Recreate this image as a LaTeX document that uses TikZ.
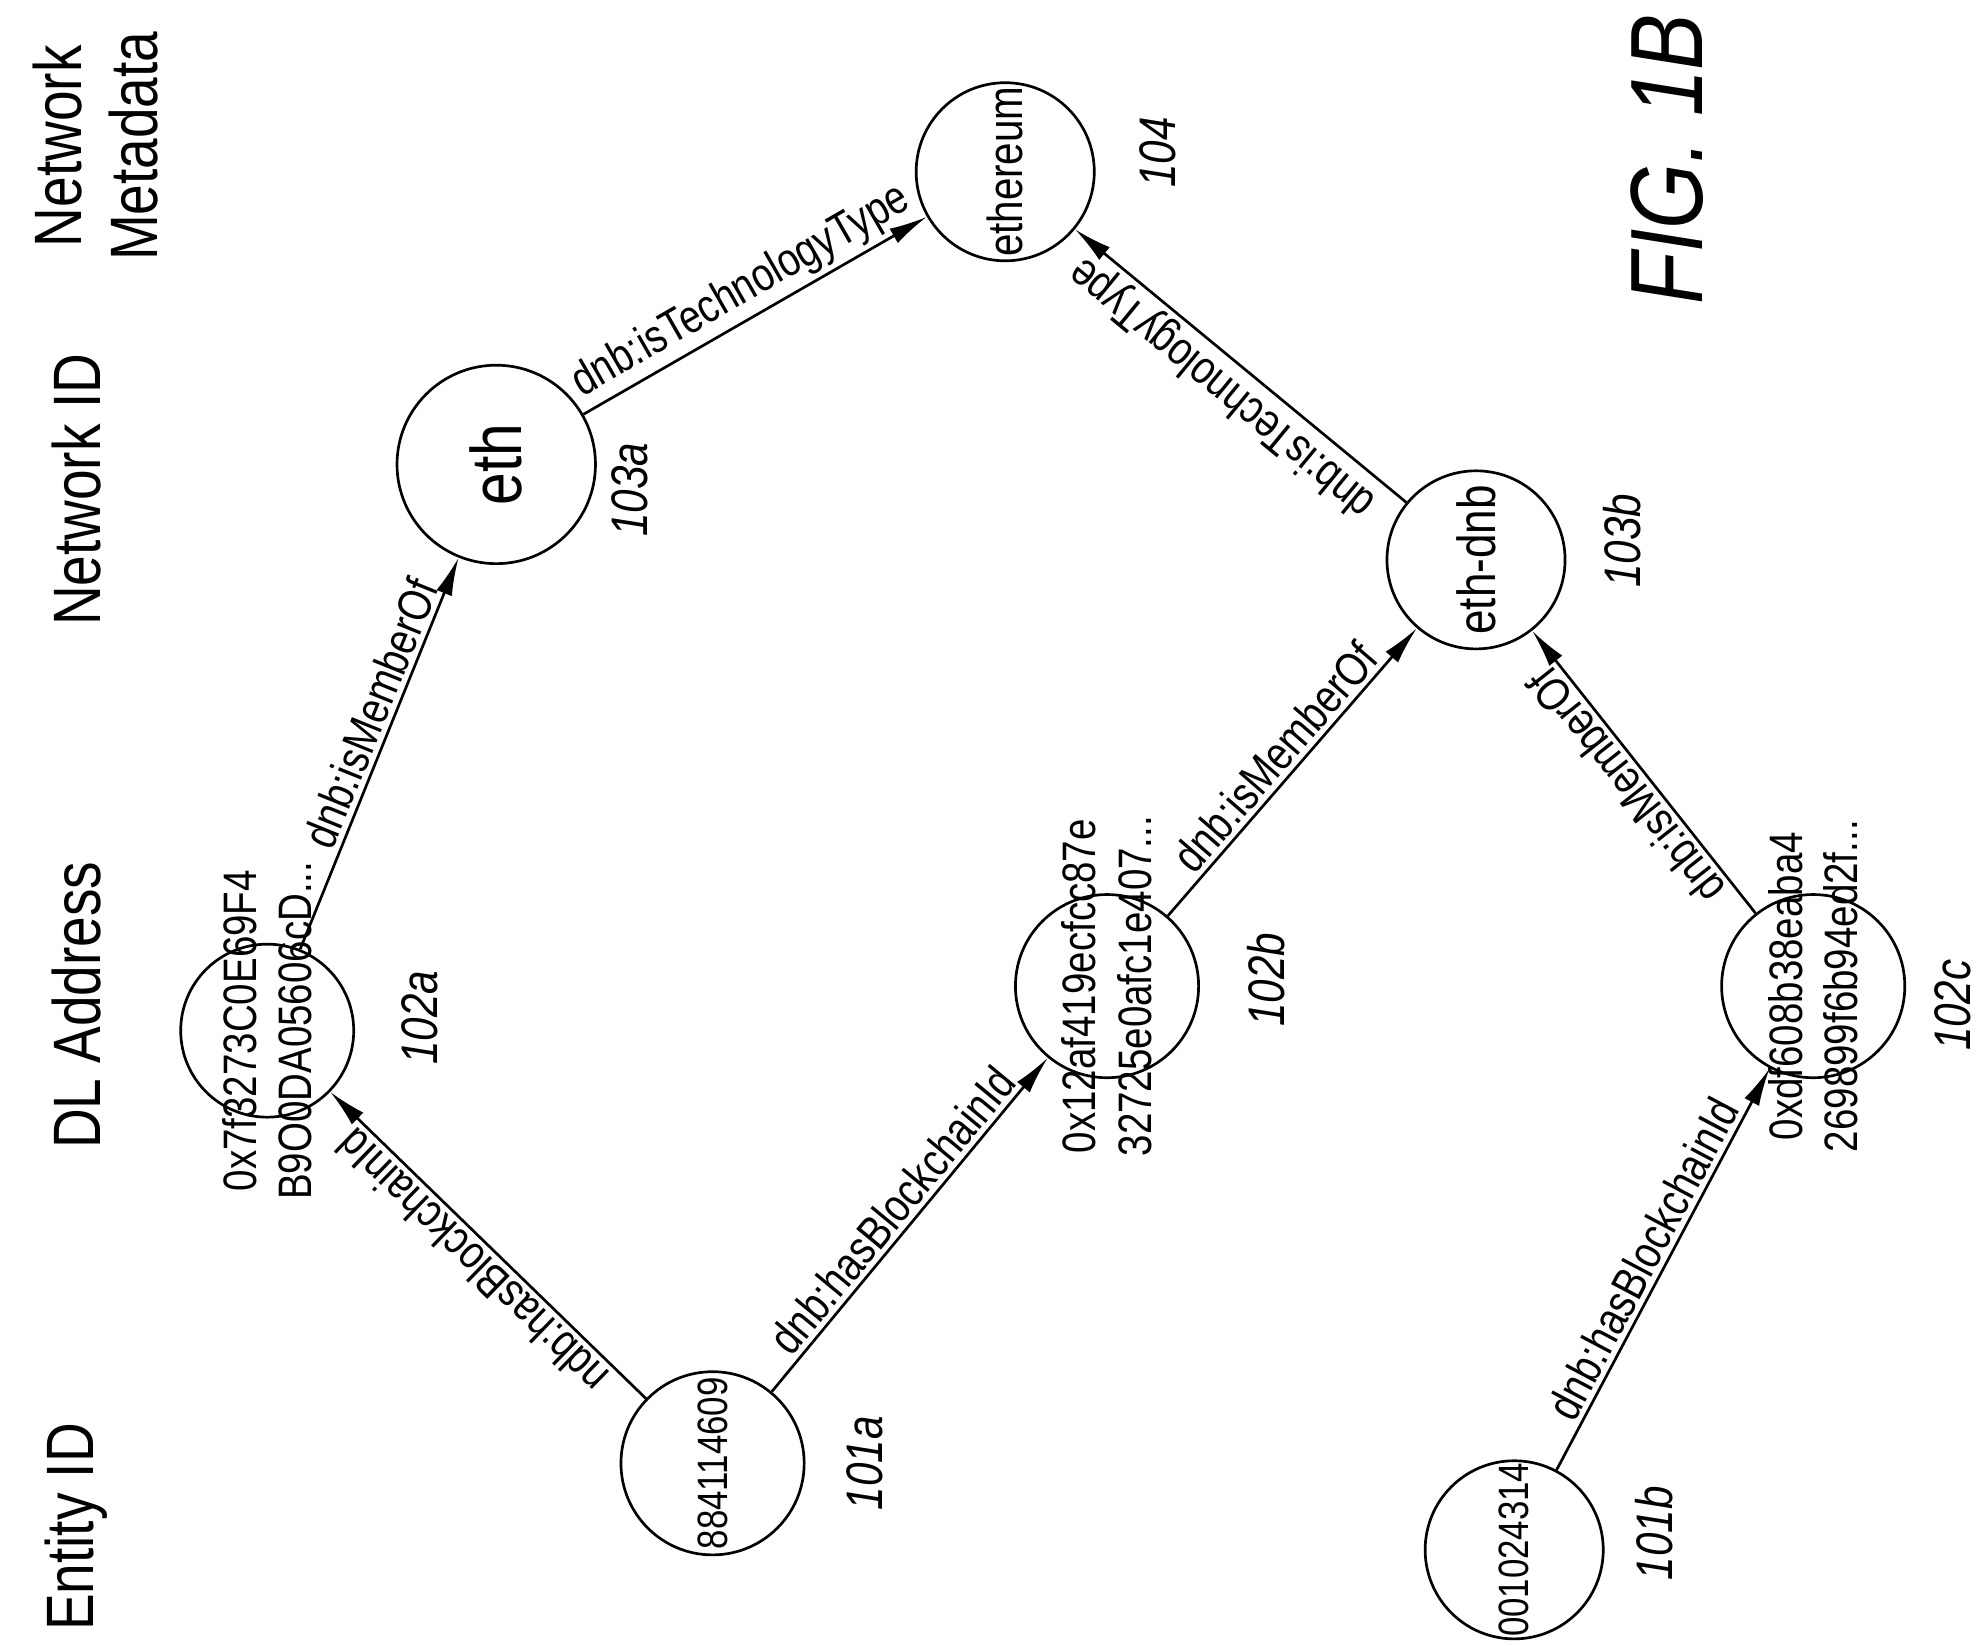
\documentclass[tikz,border=0pt]{standalone}
\usepackage{fontspec}
\setmainfont{Liberation Sans}[FakeStretch=0.82]
\usetikzlibrary{arrows.meta}
\newcommand\hdfont{\fontsize{30}{34}\selectfont}
\newcommand\lbfont{\fontsize{21}{24}\selectfont}
\newcommand\adfont{\fontsize{21}{25}\selectfont}
\newcommand\idfont{\fontsize{19}{22}\selectfont}
\newcommand\rffont{\fontsize{23}{26}\selectfont\itshape}
\tikzset{
  ent/.style={circle,draw,line width=1.2pt,inner sep=0pt},
  rel/.style={line width=1.2pt,-{Latex[length=6mm,width=2.6mm]}},
  edgelab/.style={sloped,allow upside down,above,inner sep=2pt,font=\lbfont,pos=0.5},
  vtext/.style={rotate=90,align=center},
  refnum/.style={rotate=90,font=\rffont}
}
\begin{document}
\begin{tikzpicture}[x=0.02cm,y=-0.02cm]
\useasboundingbox (0,0) rectangle (1560,1293);

% column headings
\node[vtext,font=\hdfont] at (60,1200) {Entity ID};
\node[vtext,font=\hdfont] at (60,790) {DL Address};
\node[vtext,font=\hdfont] at (60,385) {Network ID};
\node[vtext,font=\hdfont] at (75,115) {Network\\Metadata};
\node[vtext,font=\fontsize{46}{50}\selectfont\itshape] at (1310,125) {FIG. 1B};

% nodes
\node[ent,minimum size=2.88cm] (e1) at (560,1150) {};
\node[ent,minimum size=2.8cm] (e2) at (1190,1218) {};
\node[ent,minimum size=2.72cm] (a1) at (210,810) {};
\node[ent,minimum size=2.88cm] (a2) at (870,775) {};
\node[ent,minimum size=2.88cm] (a3) at (1425,775) {};
\node[ent,minimum size=3.12cm] (n1) at (390,365) {};
\node[ent,minimum size=2.8cm] (n2) at (1160,440) {};
\node[ent,minimum size=2.8cm] (m1) at (790,135) {};

\node[vtext,font=\idfont] at (e1) {884114609};
\node[vtext,font=\idfont] at (e2) {001024314};
\node[vtext,font=\adfont] at (a1) {0x7f3273C0E69F4\\B9O0DA05606cD...};
\node[vtext,font=\adfont] at (a2) {0x12af419ecfcc87e\\32725e0afc1e407...};
\node[vtext,font=\adfont] at (a3) {0xdf608b38eaba4\\269899f6b94ed2f...};
\node[vtext,font=\fontsize{32}{36}\selectfont] at (n1) {eth};
\node[vtext,font=\fontsize{24}{28}\selectfont] at (n2) {eth-dnb};
\node[vtext,font=\fontsize{22}{26}\selectfont] at (m1) {ethereum};

% reference numerals
\node[refnum] at (680,1150) {101a};
\node[refnum] at (1300,1205) {101b};
\node[refnum] at (330,800) {102a};
\node[refnum] at (995,770) {102b};
\node[refnum] at (1535,790) {102c};
\node[refnum] at (495,385) {103a};
\node[refnum] at (1275,425) {103b};
\node[refnum] at (910,120) {104};

% relations
\draw[rel] (e1) -- node[edgelab] {ndb:hasBlockchainId} (a1);
\draw[rel] (e1) -- node[edgelab] {dnb:hasBlockchainId} (a2);
\draw[rel] (e2) -- node[edgelab] {dnb:hasBlockchainId} (a3);
\draw[rel] (a1) -- node[edgelab,pos=0.58] {dnb:isMemberOf} (n1);
\draw[rel] (a2) -- node[edgelab] {dnb:isMemberOf} (n2);
\draw[rel] (a3) -- node[edgelab] {dnb:isMemberOf} (n2);
\draw[rel] (n1) -- node[edgelab] {dnb:isTechnologyType} (m1);
\draw[rel] (n2) -- node[edgelab] {dnb:isTechnologyType} (m1);
\end{tikzpicture}
\end{document}
